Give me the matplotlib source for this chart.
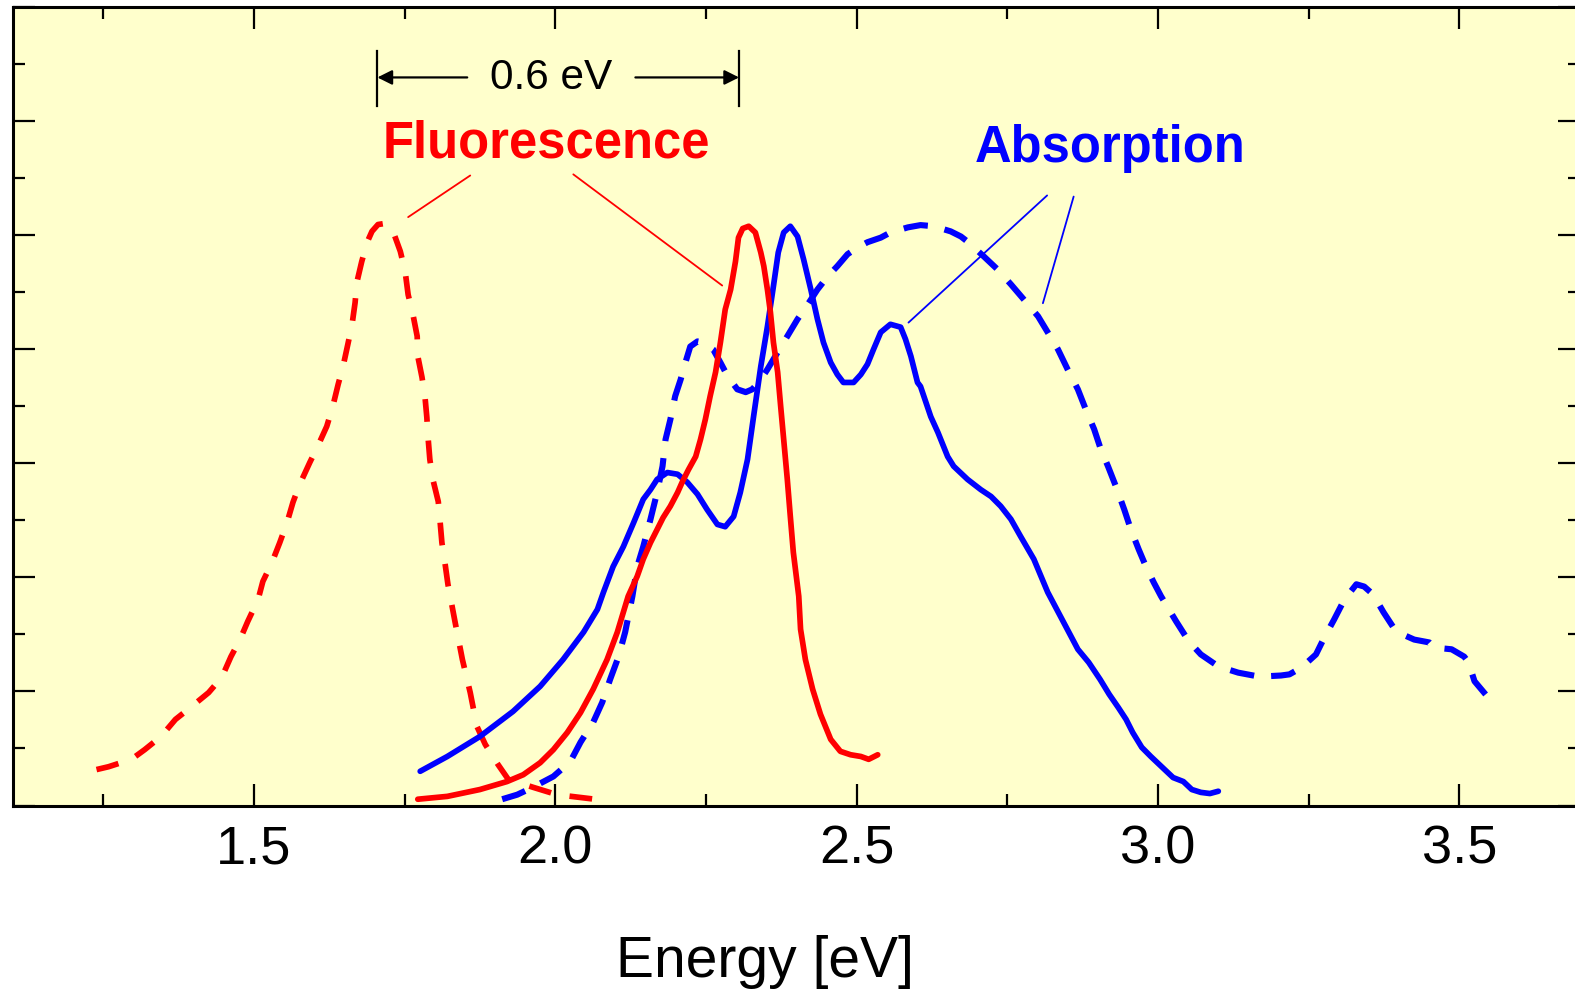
import matplotlib
matplotlib.use("Agg")
import matplotlib.pyplot as plt
from matplotlib.ticker import MultipleLocator, FormatStrFormatter

plt.rcParams["font.family"] = ["Liberation Sans", "DejaVu Sans"]

# Fluorescence spectra (normalised intensity vs photon energy in eV)
fluor_a_energy = [1.239, 1.259, 1.297, 1.319, 1.346, 1.370, 1.395, 1.425, 1.447, 1.462,
                  1.477, 1.490, 1.507, 1.515, 1.530, 1.543, 1.555, 1.565, 1.576, 1.593,
                  1.606, 1.621, 1.631, 1.640, 1.648, 1.656, 1.663, 1.668, 1.671, 1.679,
                  1.688, 1.696, 1.706, 1.718, 1.731, 1.743, 1.751, 1.756, 1.764, 1.771,
                  1.772, 1.779, 1.784, 1.787, 1.789, 1.792, 1.797, 1.806, 1.809, 1.812,
                  1.817, 1.822, 1.834, 1.846, 1.859, 1.870, 1.884, 1.905, 1.922, 1.963,
                  2.003, 2.066]
fluor_a_intensity = [0.063, 0.068, 0.081, 0.098, 0.121, 0.151, 0.172, 0.198, 0.225, 0.261,
                     0.291, 0.323, 0.361, 0.393, 0.426, 0.461, 0.496, 0.532, 0.563, 0.602,
                     0.630, 0.665, 0.700, 0.739, 0.770, 0.809, 0.844, 0.882, 0.918, 0.954,
                     0.988, 1.007, 1.019, 1.021, 1.007, 0.972, 0.937, 0.896, 0.861, 0.823,
                     0.788, 0.751, 0.716, 0.681, 0.646, 0.607, 0.572, 0.533, 0.498, 0.461,
                     0.426, 0.388, 0.321, 0.256, 0.198, 0.139, 0.107, 0.072, 0.046, 0.032,
                     0.019, 0.011]

fluor_b_energy = [1.772, 1.821, 1.875, 1.920, 1.947, 1.975, 1.997, 2.020, 2.042, 2.063,
                  2.086, 2.103, 2.121, 2.136, 2.146, 2.158, 2.169, 2.179, 2.191, 2.203,
                  2.211, 2.221, 2.233, 2.241, 2.249, 2.257, 2.266, 2.274, 2.282, 2.291,
                  2.299, 2.304, 2.311, 2.321, 2.332, 2.341, 2.346, 2.352, 2.357, 2.362,
                  2.369, 2.374, 2.379, 2.385, 2.390, 2.395, 2.404, 2.407, 2.415, 2.427,
                  2.440, 2.457, 2.473, 2.490, 2.507, 2.520, 2.535]
fluor_b_intensity = [0.011, 0.016, 0.028, 0.042, 0.054, 0.075, 0.098, 0.128, 0.163, 0.204,
                     0.256, 0.304, 0.367, 0.402, 0.432, 0.461, 0.484, 0.505, 0.525, 0.549,
                     0.568, 0.589, 0.612, 0.642, 0.677, 0.718, 0.760, 0.812, 0.870, 0.905,
                     0.954, 0.996, 1.012, 1.016, 1.005, 0.970, 0.946, 0.905, 0.865, 0.812,
                     0.760, 0.700, 0.642, 0.572, 0.507, 0.444, 0.367, 0.309, 0.256, 0.204,
                     0.160, 0.116, 0.095, 0.089, 0.086, 0.081, 0.089]

# Absorption spectra
abs_b_energy = [1.776, 1.821, 1.875, 1.930, 1.975, 2.013, 2.047, 2.070, 2.080, 2.096,
                2.113, 2.130, 2.146, 2.158, 2.169, 2.186, 2.203, 2.219, 2.236, 2.252,
                2.269, 2.282, 2.296, 2.307, 2.319, 2.329, 2.341, 2.352, 2.362, 2.370,
                2.379, 2.390, 2.402, 2.412, 2.424, 2.435, 2.445, 2.457, 2.468, 2.478,
                2.495, 2.507, 2.518, 2.528, 2.540, 2.556, 2.573, 2.581, 2.590, 2.601,
                2.606, 2.623, 2.635, 2.651, 2.661, 2.684, 2.706, 2.723, 2.739, 2.756,
                2.772, 2.794, 2.817, 2.867, 2.885, 2.904, 2.919, 2.934, 2.947, 2.958,
                2.973, 2.988, 3.007, 3.025, 3.042, 3.056, 3.071, 3.086, 3.100]
abs_b_intensity = [0.060, 0.086, 0.121, 0.165, 0.209, 0.256, 0.304, 0.344, 0.374, 0.419,
                   0.454, 0.496, 0.537, 0.554, 0.572, 0.584, 0.581, 0.567, 0.546, 0.519,
                   0.493, 0.489, 0.507, 0.549, 0.607, 0.682, 0.770, 0.840, 0.911, 0.970,
                   1.005, 1.016, 0.998, 0.958, 0.905, 0.853, 0.812, 0.777, 0.756, 0.742,
                   0.742, 0.756, 0.774, 0.800, 0.830, 0.844, 0.839, 0.818, 0.788, 0.742,
                   0.735, 0.682, 0.654, 0.612, 0.595, 0.572, 0.554, 0.542, 0.525, 0.502,
                   0.472, 0.432, 0.374, 0.274, 0.251, 0.221, 0.195, 0.172, 0.151, 0.128,
                   0.102, 0.086, 0.067, 0.049, 0.042, 0.028, 0.023, 0.021, 0.025]

abs_a_energy = [1.912, 1.937, 1.963, 1.997, 2.025, 2.042, 2.063, 2.078, 2.091, 2.105,
                2.116, 2.128, 2.136, 2.146, 2.158, 2.169, 2.178, 2.183, 2.191, 2.199,
                2.208, 2.216, 2.224, 2.236, 2.246, 2.262, 2.274, 2.286, 2.302, 2.316,
                2.327, 2.341, 2.352, 2.369, 2.385, 2.402, 2.419, 2.435, 2.452, 2.468,
                2.485, 2.502, 2.518, 2.540, 2.556, 2.585, 2.606, 2.628, 2.656, 2.673,
                2.684, 2.711, 2.734, 2.756, 2.777, 2.801, 2.817, 2.834, 2.850, 2.867,
                2.880, 2.894, 2.905, 2.917, 2.930, 2.944, 2.955, 2.968, 2.980, 2.993,
                3.005, 3.030, 3.051, 3.071, 3.100, 3.133, 3.168, 3.204, 3.218, 3.238,
                3.262, 3.276, 3.292, 3.309, 3.329, 3.342, 3.357, 3.374, 3.395, 3.425,
                3.450, 3.458, 3.487, 3.508, 3.515, 3.525, 3.548]
abs_a_intensity = [0.011, 0.019, 0.032, 0.051, 0.077, 0.111, 0.146, 0.181, 0.221, 0.261,
                   0.304, 0.367, 0.419, 0.454, 0.502, 0.549, 0.595, 0.642, 0.677, 0.718,
                   0.747, 0.777, 0.805, 0.814, 0.812, 0.800, 0.777, 0.753, 0.730, 0.725,
                   0.730, 0.747, 0.765, 0.795, 0.823, 0.853, 0.879, 0.905, 0.928, 0.946,
                   0.967, 0.979, 0.988, 0.996, 1.005, 1.014, 1.018, 1.016, 1.007, 0.998,
                   0.989, 0.963, 0.940, 0.914, 0.888, 0.858, 0.830, 0.800, 0.765, 0.730,
                   0.695, 0.660, 0.625, 0.595, 0.560, 0.519, 0.484, 0.449, 0.419, 0.391,
                   0.367, 0.323, 0.288, 0.265, 0.244, 0.233, 0.226, 0.228, 0.230, 0.242,
                   0.265, 0.295, 0.326, 0.361, 0.388, 0.384, 0.370, 0.339, 0.305, 0.291,
                   0.286, 0.277, 0.274, 0.261, 0.251, 0.218, 0.189]

stokes_start = 1.705
stokes_shift = 0.6

RED = "#FF0000"
BLUE = "#0000FF"

W, H = 1575, 995
fig = plt.figure(figsize=(W / 100, H / 100), dpi=100)
left_px, right_px, top_px, bottom_px = 12.7, 1580.0, 8.3, 806.5
ax = fig.add_axes([left_px / W, 1 - bottom_px / H,
                   (right_px - left_px) / W, (bottom_px - top_px) / H])
ax.set_facecolor("#FFFFCC")
ax.set_xlim(1.1, 3.7)
ax.set_ylim(0, 1.4)

lw = 4.1
ax.plot(fluor_a_energy, fluor_a_intensity, color=RED, lw=lw,
        linestyle=(0, (4.0, 3.3)), solid_joinstyle="round")
ax.plot(abs_a_energy, abs_a_intensity, color=BLUE, lw=lw + 0.3,
        linestyle=(0, (4.0, 2.8)), solid_joinstyle="round")
ax.plot(abs_b_energy, abs_b_intensity, color=BLUE, lw=lw,
        solid_joinstyle="round", solid_capstyle="round")
ax.plot(fluor_b_energy, fluor_b_intensity, color=RED, lw=lw,
        solid_joinstyle="round", solid_capstyle="round")

# axis styling
for sp in ax.spines.values():
    sp.set_linewidth(2.2)
ax.xaxis.set_major_locator(MultipleLocator(0.5))
ax.xaxis.set_minor_locator(MultipleLocator(0.25))
ax.xaxis.set_major_formatter(FormatStrFormatter("%.1f"))
ax.yaxis.set_major_locator(MultipleLocator(0.2))
ax.yaxis.set_minor_locator(MultipleLocator(0.1))
ax.tick_params(which="both", direction="in", top=True, right=True,
               labelleft=False, width=1.6)
ax.tick_params(which="major", length=16)
ax.tick_params(which="minor", length=8.5)
ax.tick_params(axis="x", labelsize=39, pad=13)

fig.text(765 / W, 1 - 977 / H, "Energy [eV]", fontsize=41,
         ha="center", va="baseline")

# Stokes-shift marker
bar_lo, bar_hi, bar_mid = 1.227, 1.323, 1.277
stokes_end = stokes_start + stokes_shift
for xe in (stokes_start, stokes_end):
    ax.plot([xe, xe], [bar_lo, bar_hi], color="black", lw=1.6)
ax.text((stokes_start + stokes_end) / 2 - 0.012, bar_mid, f"{stokes_shift:.1f} eV",
        fontsize=30.5, ha="center", va="center")
ax.annotate("", xy=(stokes_start, bar_mid), xytext=(1.854, bar_mid),
            arrowprops=dict(arrowstyle="-|>", color="black", lw=1.6,
                            mutation_scale=22, shrinkA=0, shrinkB=0))
ax.annotate("", xy=(stokes_end, bar_mid), xytext=(2.133, bar_mid),
            arrowprops=dict(arrowstyle="-|>", color="black", lw=1.6,
                            mutation_scale=22, shrinkA=0, shrinkB=0))

# series labels with leader lines
ax.text(1.985, 1.139, "Fluorescence", color=RED, fontsize=36.5,
        fontweight="bold", ha="center", va="baseline")
ax.text(2.921, 1.130, "Absorption", color=BLUE, fontsize=36.5,
        fontweight="bold", ha="center", va="baseline")
leader = dict(arrowstyle="-", shrinkA=0, shrinkB=0, lw=1.3)
ax.annotate("", xy=(1.756, 1.032), xytext=(1.859, 1.105),
            arrowprops=dict(color=RED, **leader))
ax.annotate("", xy=(2.277, 0.912), xytext=(2.030, 1.107),
            arrowprops=dict(color=RED, **leader))
ax.annotate("", xy=(2.586, 0.847), xytext=(2.816, 1.070),
            arrowprops=dict(color=BLUE, **leader))
ax.annotate("", xy=(2.809, 0.881), xytext=(2.860, 1.068),
            arrowprops=dict(color=BLUE, **leader))

fig.savefig("out.png", dpi=100, facecolor="white")
